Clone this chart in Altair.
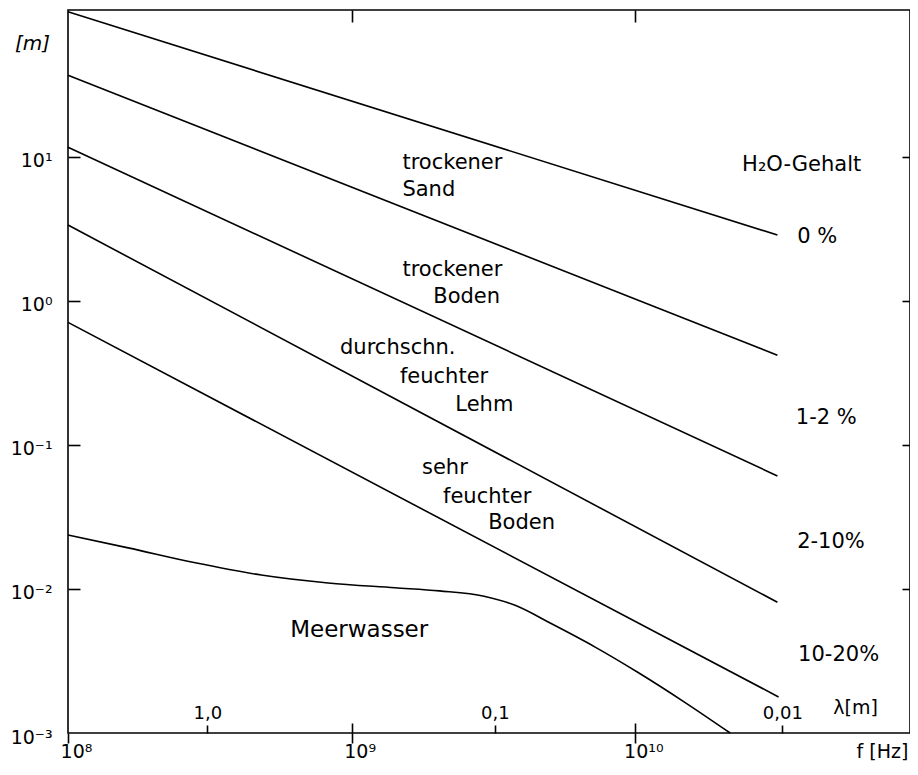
import altair as alt
import pandas as pd

# ---------------- data ----------------
# straight lines (start / end) : frequency [Hz], depth [m]
line_names = ["trockener Sand", "trockener Boden", "durchschn. feuchter Lehm",
              "sehr feuchter Boden", "nasser Boden"]
line_f = [[1.0e8, 3.17e10], [1.0e8, 3.17e10], [1.0e8, 3.17e10],
          [1.0e8, 3.17e10], [1.0e8, 3.2e10]]
line_v = [[102.0, 2.87], [37.0, 0.42], [11.7, 0.061], [3.37, 0.0081], [0.71, 0.00178]]

# sea water curve
sea_f = [1.0e8, 1.63e8, 2.81e8, 4.8e8, 8.26e8, 1.42e9, 2.04e9, 2.93e9, 3.77e9,
         5.01e9, 7.22e9, 1.03e10, 1.49e10, 2.16e10]
sea_v = [0.0237, 0.0193, 0.0152, 0.0125, 0.0110, 0.0102, 0.0097, 0.0089, 0.0077,
         0.0058, 0.00395, 0.00261, 0.00164, 0.0010]

# axes
x_domain = [1.0e8, 9.3e10]
y_domain = [1.0e-3, 104.9]
x_ticks = [1e8, 1e9, 1e10]
x_tick_labels = ["10⁸", "10⁹", "10¹⁰"]
x_inner_ticks = [1e9, 1e10]
y_ticks = [1e1, 1e0, 1e-1, 1e-2, 1e-3]
y_tick_labels = ["10¹", "10⁰", "10⁻¹", "10⁻²", "10⁻³"]
y_inner_ticks = [1e1, 1e0, 1e-1, 1e-2]
lam_ticks = [3.1e8, 3.2e9, 3.3e10]
lam_labels = ["1,0", "0,1", "0,01"]

# annotations (left-aligned), positions in data units
ann_text = ["trockener", "Sand", "trockener", "Boden", "durchschn.", "feuchter", "Lehm",
            "sehr", "feuchter", "Boden", "H₂O-Gehalt", "0 %", "1-2 %", "2-10%", "10-20%"]
ann_f = [1.51e9, 1.51e9, 1.51e9, 1.94e9, 9.1e8, 1.48e9, 2.32e9,
         1.77e9, 2.10e9, 3.03e9, 2.38e10, 3.72e10, 3.68e10, 3.72e10, 3.75e10]
ann_v = [9.08, 5.90, 1.64, 1.07, 0.472, 0.297, 0.190,
         0.0692, 0.0435, 0.0287, 8.79, 2.78, 0.154, 0.0212, 0.00348]

sea_label = ["Meerwasser"]
sea_label_f = [6.07e8]
sea_label_v = [0.00519]

lam_title = ["λ[m]"]
lam_title_f = [4.99e10]
lam_title_v = [0.00149]

# ---------------- tables ----------------
rows = []
for name, fs, vs in zip(line_names, line_f, line_v):
    for i, (f, v) in enumerate(zip(fs, vs)):
        rows.append({"series": name, "f": f, "v": v, "i": i})
lines_df = pd.DataFrame(rows)
sea_df = pd.DataFrame({"f": sea_f, "v": sea_v, "i": list(range(len(sea_f)))})
ann_df = pd.DataFrame({"text": ann_text, "f": ann_f, "v": ann_v})
sea_lab_df = pd.DataFrame({"text": sea_label, "f": sea_label_f, "v": sea_label_v})
lam_df = pd.DataFrame({"text": lam_title, "f": lam_title_f, "v": lam_title_v})


def label_expr(vals, labels):
    expr = "''"
    for v, lab in reversed(list(zip(vals, labels))):
        expr = f"(abs(datum.value / {v!r} - 1) < 1e-6 ? '{lab}' : {expr})"
    return expr


FONT = "DejaVu Sans"
xs = alt.Scale(type="log", domain=x_domain, nice=False)
ys = alt.Scale(type="log", domain=y_domain, nice=False)

main_x_axis = alt.Axis(
    values=x_ticks, labelExpr=label_expr(x_ticks, x_tick_labels), tickSize=10,
    domain=False, grid=False, labelFlush=False, labelOffset=8, labelPadding=8,
    labelBaseline="middle", labelFontSize=19, labelFont=FONT,
    title="f [Hz]", titleX=814, titleY=18, titleAlign="center", titleBaseline="middle",
    titleFontSize=19, titleFontWeight="normal", titleFont=FONT,
)
main_y_axis = alt.Axis(
    values=y_ticks, labelExpr=label_expr(y_ticks, y_tick_labels), ticks=False,
    tickSize=0, domain=False, grid=False, labelPadding=16, labelOffset=4,
    labelFontSize=19, labelFont=FONT,
    title="[m]", titleAngle=0, titleX=-36, titleY=33, titleAlign="center",
    titleBaseline="middle", titleFontSize=20, titleFontWeight="normal",
    titleFontStyle="italic", titleFont=FONT,
)
bottom_inner = alt.Axis(orient="bottom", offset=-10, tickSize=10, values=x_inner_ticks,
                        labels=False, domain=False, grid=False, title=None)
left_inner = alt.Axis(orient="left", offset=-12, tickSize=12, values=y_inner_ticks,
                      labels=False, domain=False, grid=False, title=None)
top_inner = alt.Axis(orient="top", offset=-12, tickSize=12, values=x_inner_ticks,
                     labels=False, domain=False, grid=False, title=None)
right_inner = alt.Axis(orient="right", offset=-8, tickSize=8, values=y_inner_ticks,
                       labels=False, domain=False, grid=False, title=None)
lam_axis = alt.Axis(orient="top", offset=-723, tickSize=8, values=lam_ticks,
                    labelExpr=label_expr(lam_ticks, lam_labels), labelPadding=3,
                    labelFontSize=18, labelFont=FONT, labelFlush=False,
                    domain=False, grid=False, title=None)

lines = alt.Chart(lines_df).mark_line(color="black", strokeWidth=1.6).encode(
    x=alt.X("f:Q", scale=xs, axis=main_x_axis),
    y=alt.Y("v:Q", scale=ys, axis=main_y_axis),
    detail="series:N",
    order="i:Q",
)

sea = alt.Chart(sea_df).mark_line(color="black", strokeWidth=1.6, interpolate="monotone").encode(
    x=alt.X("f:Q", scale=xs, axis=bottom_inner),
    y=alt.Y("v:Q", scale=ys, axis=left_inner),
    order="i:Q",
)

ann = alt.Chart(ann_df).mark_text(align="left", baseline="middle", fontSize=21,
                                  font=FONT, color="black").encode(
    x=alt.X("f:Q", scale=xs, axis=top_inner),
    y=alt.Y("v:Q", scale=ys, axis=right_inner),
    text="text:N",
)

lam = alt.Chart(lam_df).mark_text(align="left", baseline="middle", fontSize=19,
                                  font=FONT, color="black").encode(
    x=alt.X("f:Q", scale=xs, axis=lam_axis),
    y=alt.Y("v:Q", scale=ys, axis=None),
    text="text:N",
)

sea_lab = alt.Chart(sea_lab_df).mark_text(align="left", baseline="middle", fontSize=23,
                                          font=FONT, color="black").encode(
    x=alt.X("f:Q", scale=xs, axis=None),
    y=alt.Y("v:Q", scale=ys, axis=None),
    text="text:N",
)

chart = alt.layer(lines, sea, ann, lam, sea_lab).resolve_axis(
    x="independent", y="independent"
).properties(
    width=842, height=723,
    autosize=alt.AutoSizeParams(type="none"),
    padding={"left": 60, "top": 2, "right": 0, "bottom": 28},
    background="white",
).configure_view(
    stroke="black", strokeWidth=1.6
).configure_axis(
    tickColor="black", tickWidth=1.6, labelColor="black", titleColor="black"
)

chart.save("out.html", embed_options={"renderer": "svg", "actions": False})
